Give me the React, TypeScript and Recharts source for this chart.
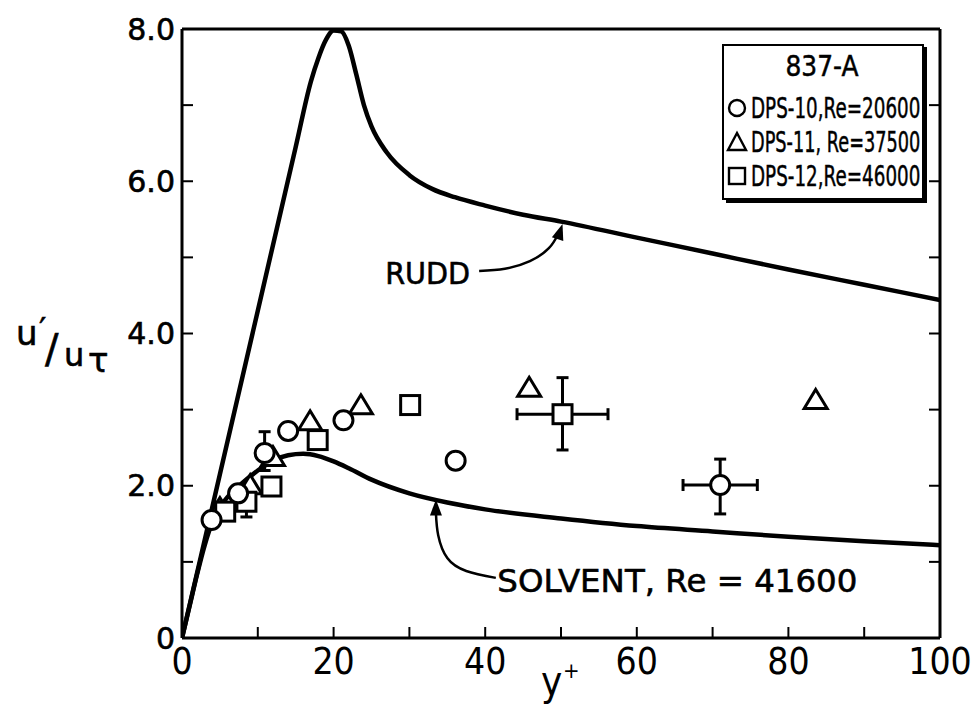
import React from 'react';
import { ComposedChart, Scatter, Line, XAxis, YAxis, ErrorBar, ReferenceDot, Legend } from 'recharts';

// ---- curves ----
const ruddX = [0, 5, 10, 15, 17, 18, 19, 20, 21, 22, 23, 24, 25, 27, 30, 33, 36, 40, 45, 50, 60, 70, 80, 90, 100];
const ruddY = [0, 2.15, 4.3, 6.45, 7.31, 7.62, 7.86, 7.98, 7.97, 7.78, 7.4, 7.0, 6.72, 6.38, 6.08, 5.9, 5.79, 5.68, 5.56, 5.47, 5.26, 5.05, 4.84, 4.64, 4.44];

const solvX = [0, 1, 2, 3, 4, 5, 6, 7, 8, 10, 12, 14, 16, 18, 20, 22, 25, 30, 35, 40, 50, 60, 70, 80, 90, 100];
const solvY = [0, 0.42, 0.84, 1.22, 1.52, 1.72, 1.85, 1.95, 2.04, 2.2, 2.33, 2.4, 2.42, 2.39, 2.32, 2.23, 2.08, 1.9, 1.78, 1.69, 1.57, 1.47, 1.4, 1.33, 1.27, 1.22];

// ---- data points ----
const dps10X = [3.9, 7.4, 14.0, 21.3, 36.1];
const dps10Y = [1.55, 1.9, 2.72, 2.86, 2.33];
const dps10ErrX = [10.9, 71.0];
const dps10ErrY = [2.43, 2.01];
const dps10ErrXBar = [0, 4.9];
const dps10ErrYBar: [number, number][] = [[0.23, 0.28], [0.38, 0.34]];

const dps11X = [5.0, 9.0, 12.0, 16.9, 23.6, 45.8, 83.6];
const dps11Y = [1.7, 2.0, 2.37, 2.84, 3.05, 3.28, 3.12];

const dps12X = [5.7, 11.8, 17.9, 30.1];
const dps12Y = [1.66, 1.99, 2.6, 3.06];
const dps12ErrX = [8.5, 50.2];
const dps12ErrY = [1.79, 2.94];
const dps12ErrXBar = [0, 6.0];
const dps12ErrYBar: [number, number][] = [[0.2, 0.2], [0.47, 0.48]];

// ---- legend entries ----
const legendTitle = '837-A';
const legendLabels = ['DPS-10,Re=20600', 'DPS-11, Re=37500', 'DPS-12,Re=46000'];
const legendShapes = ['circle', 'triangle', 'square'];

// ---- annotation arrows ----
const ruddArrowX = [39.2, 42.6, 45.9, 48.4, 49.6];
const ruddArrowY = [4.82, 4.85, 4.95, 5.12, 5.3];
const solvArrowX = [41.4, 37.5, 35.0, 33.8, 33.5];
const solvArrowY = [0.79, 0.88, 1.05, 1.35, 1.64];

// ---- ticks ----
const xTicks = [0, 10, 20, 30, 40, 50, 60, 70, 80, 90, 100];
const yTicks = [0, 1, 2, 3, 4, 5, 6, 7, 8];

const zip = (xs: number[], ys: number[]) => xs.map((x, i) => ({ x, y: ys[i] }));
const ruddData = zip(ruddX, ruddY);
const solvData = zip(solvX, solvY);
const dps10 = zip(dps10X, dps10Y);
const dps11 = zip(dps11X, dps11Y);
const dps12 = zip(dps12X, dps12Y);
const dps10e = dps10ErrX.map((x, i) => ({ x, y: dps10ErrY[i], ex: dps10ErrXBar[i], ey: dps10ErrYBar[i] }));
const dps12e = dps12ErrX.map((x, i) => ({ x, y: dps12ErrY[i], ex: dps12ErrXBar[i], ey: dps12ErrYBar[i] }));
const ruddArrow = zip(ruddArrowX, ruddArrowY);
const solvArrow = zip(solvArrowX, solvArrowY);

const SW = 3;
const CircleShape = (p: any) => <circle cx={p.cx} cy={p.cy} r={9.5} fill="#fff" stroke="#000" strokeWidth={SW} />;
const TriShape = (p: any) => (
  <path d={`M${p.cx},${p.cy - 11} L${p.cx + 11.5},${p.cy + 8} L${p.cx - 11.5},${p.cy + 8} Z`} fill="#fff" stroke="#000" strokeWidth={SW} />
);
const SqShape = (p: any) => <rect x={p.cx - 9.5} y={p.cy - 9.5} width={19} height={19} fill="#fff" stroke="#000" strokeWidth={SW} />;

const arrowHead = (angle: number) => (p: any) => (
  <path
    d={`M${p.cx},${p.cy} L${p.cx - 6},${p.cy + 16} L${p.cx + 6},${p.cy + 16} Z`}
    fill="#000"
    transform={`rotate(${angle} ${p.cx} ${p.cy})`}
  />
);

const ANN_FONT = "'DejaVu Sans', sans-serif";
const NARROW = "'Liberation Sans Narrow', 'DejaVu Sans Condensed', 'DejaVu Sans', sans-serif";

const textShape = (label: string, len: number, size: number) => (p: any) => (
  <text x={p.cx} y={p.cy} fontSize={size} fontFamily={ANN_FONT} fill="#000" stroke="#000" strokeWidth={0.6} textLength={len} lengthAdjust="spacingAndGlyphs">
    {label}
  </text>
);

const YLabel = () => (
  <g fill="#000" stroke="#000" strokeWidth={0.6} fontFamily={ANN_FONT}>
    <text x={16} y={345} fontSize={34}>u</text>
    <text x={39} y={340} fontSize={32}>′</text>
    <text x={45} y={363} fontSize={40}>/</text>
    <text x={64} y={366} fontSize={32}>u</text>
    <text x={88} y={372} fontSize={34}>τ</text>
  </g>
);

const XLabel = () => (
  <g fill="#000" fontFamily={NARROW}>
    <text x={541} y={695} fontSize={40}>y</text>
    <text x={563} y={678} fontSize={22}>+</text>
  </g>
);

const LegendMarker = ({ kind, cx, cy }: { kind: string; cx: number; cy: number }) => {
  if (kind === 'circle') return <circle cx={cx} cy={cy} r={8} fill="#fff" stroke="#000" strokeWidth={2.4} />;
  if (kind === 'triangle') return <path d={`M${cx},${cy - 9} L${cx + 9},${cy + 8} L${cx - 9},${cy + 8} Z`} fill="#fff" stroke="#000" strokeWidth={2.4} />;
  return <rect x={cx - 8} y={cy - 8} width={16} height={16} fill="#fff" stroke="#000" strokeWidth={2.4} />;
};

const LegendBox = () => (
  <svg width={206} height={162} style={{ display: 'block' }}>
    <rect x={4} y={3} width={201} height={156} fill="#000" />
    <rect x={1} y={1} width={200} height={154} fill="#fff" stroke="#000" strokeWidth={2} />
    <g fill="#000" stroke="#000" strokeWidth={0.5} fontFamily={ANN_FONT}>
      <text transform="translate(100,32) scale(0.86,1)" textAnchor="middle" fontSize={29}>{legendTitle}</text>
      {legendLabels.map((lab, i) => (
        <text key={lab} transform={`translate(29,${74 + i * 34}) scale(${0.655 - (i === 1 ? 0.022 : 0)},1)`} fontSize={28}>
          {lab}
        </text>
      ))}
    </g>
    {legendShapes.map((k, i) => (
      <LegendMarker key={k} kind={k} cx={15} cy={64 + i * 34} />
    ))}
  </svg>
);

const fmtX = (v: number) => (v % 20 === 0 ? String(v) : '');
const fmtY = (v: number) => (v === 0 ? '0' : v % 2 === 0 ? v.toFixed(1) : '');

export default function App() {
  return (
    <div style={{ position: 'absolute', left: 0, top: 0, width: 973, height: 708, background: '#fff' }}>
      <ComposedChart width={973} height={708} margin={{ top: 19, right: 23, bottom: 20, left: 102 }}>
        <XAxis
          type="number"
          dataKey="x"
          domain={[0, 100]}
          ticks={xTicks}
          interval={0}
          allowDataOverflow
          tickFormatter={fmtX}
          height={50}
          tickSize={-11}
          tickMargin={21}
          axisLine={{ stroke: '#000', strokeWidth: 3 }}
          tickLine={{ stroke: '#000', strokeWidth: 2 }}
          tick={{ fill: '#000', fontSize: 37, fontFamily: NARROW }}
          label={{ content: XLabel }}
        />
        <XAxis
          xAxisId="top"
          orientation="top"
          type="number"
          domain={[0, 100]}
          ticks={xTicks}
          interval={0}
          allowDataOverflow
          height={10}
          tickSize={-11}
          tickFormatter={() => ''}
          axisLine={{ stroke: '#000', strokeWidth: 3 }}
          tickLine={{ stroke: '#000', strokeWidth: 2 }}
        />
        <YAxis
          type="number"
          dataKey="y"
          domain={[0, 8]}
          ticks={yTicks}
          interval={0}
          allowDataOverflow
          tickFormatter={fmtY}
          width={80}
          tickSize={-11}
          tickMargin={18}
          axisLine={{ stroke: '#000', strokeWidth: 3 }}
          tickLine={{ stroke: '#000', strokeWidth: 2 }}
          tick={{ fill: '#000', stroke: '#000', strokeWidth: 0.6, fontSize: 30, fontFamily: ANN_FONT }}
          label={{ content: YLabel }}
        />
        <YAxis
          yAxisId="right"
          orientation="right"
          type="number"
          domain={[0, 8]}
          ticks={yTicks}
          interval={0}
          allowDataOverflow
          width={10}
          tickSize={-11}
          tickFormatter={() => ''}
          axisLine={{ stroke: '#000', strokeWidth: 3 }}
          tickLine={{ stroke: '#000', strokeWidth: 2 }}
        />
        <Legend
          layout="horizontal"
          verticalAlign="middle"
          align="center"
          width={206}
          wrapperStyle={{ left: 722, top: 44, width: 206, height: 162 }}
          content={LegendBox}
        />
        <Line data={ruddData} dataKey="y" type="monotone" stroke="#000" strokeWidth={4.5} dot={false} activeDot={false} isAnimationActive={false} legendType="none" />
        <Line data={solvData} dataKey="y" type="monotone" stroke="#000" strokeWidth={4.5} dot={false} activeDot={false} isAnimationActive={false} legendType="none" />
        <Line data={ruddArrow} dataKey="y" type="natural" stroke="#000" strokeWidth={2.5} dot={false} activeDot={false} isAnimationActive={false} legendType="none" />
        <Line data={solvArrow} dataKey="y" type="natural" stroke="#000" strokeWidth={2.5} dot={false} activeDot={false} isAnimationActive={false} legendType="none" />
        <ReferenceDot x={50.2} y={5.44} r={0} shape={arrowHead(18)} />
        <ReferenceDot x={33.5} y={1.82} r={0} shape={arrowHead(0)} />
        <ReferenceDot x={26.8} y={4.65} r={0} shape={textShape('RUDD', 85, 30)} />
        <ReferenceDot x={41.6} y={0.6} r={0} shape={textShape('SOLVENT, Re = 41600', 360, 32)} />
        <Scatter data={dps11} dataKey="y" shape={TriShape} isAnimationActive={false} />
        <Scatter data={dps12} dataKey="y" shape={SqShape} isAnimationActive={false} />
        <Scatter data={dps12e} dataKey="y" shape={SqShape} isAnimationActive={false}>
          <ErrorBar dataKey="ey" direction="y" width={6} stroke="#000" strokeWidth={3} />
          <ErrorBar dataKey="ex" direction="x" width={6} stroke="#000" strokeWidth={3} />
        </Scatter>
        <Scatter data={dps10} dataKey="y" shape={CircleShape} isAnimationActive={false} />
        <Scatter data={dps10e} dataKey="y" shape={CircleShape} isAnimationActive={false}>
          <ErrorBar dataKey="ey" direction="y" width={6} stroke="#000" strokeWidth={3} />
          <ErrorBar dataKey="ex" direction="x" width={6} stroke="#000" strokeWidth={3} />
        </Scatter>
      </ComposedChart>
    </div>
  );
}
